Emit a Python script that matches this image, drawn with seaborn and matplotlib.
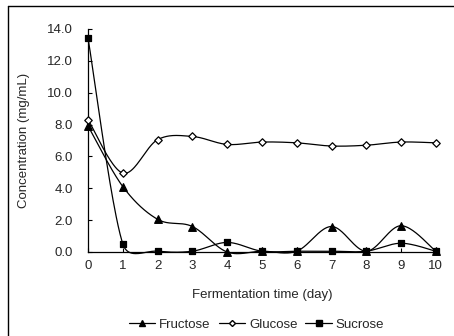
import numpy as np
import pandas as pd
import matplotlib
matplotlib.use("Agg")
import matplotlib.pyplot as plt
from matplotlib.lines import Line2D
import seaborn as sns

days = [0, 1, 2, 3, 4, 5, 6, 7, 8, 9, 10]
fructose = [7.9, 4.1, 2.05, 1.6, 0.0, 0.05, 0.05, 1.6, 0.05, 1.65, 0.05]
glucose = [8.3, 4.95, 7.05, 7.25, 6.75, 6.9, 6.85, 6.65, 6.7, 6.9, 6.85]
sucrose = [13.4, 0.5, 0.05, 0.05, 0.6, 0.05, 0.05, 0.05, 0.05, 0.55, 0.05]
series_names = ["Fructose", "Glucose", "Sucrose"]
y_ticks = [0, 2, 4, 6, 8, 10, 12, 14]
x_ticks = days

sns.set_theme(style="white")
plt.rcParams["font.family"] = ["Liberation Sans", "DejaVu Sans"]

fig = plt.figure(figsize=(4.54, 3.36), dpi=100)
ax = fig.add_axes([0.194, 0.25, 0.766, 0.664])
ax.set_xlim(0, 10)
ax.set_ylim(0, 14)

# pixel scales for smoothing distances
sx = 35.0
sy = 15.9


def smooth(xs, ys, n=40):
    P = np.column_stack([np.asarray(xs, float) * sx, np.asarray(ys, float) * sy])
    out = [P[0]]
    m = len(P)
    for i in range(m - 1):
        p0 = P[i - 1] if i > 0 else P[i]
        p1 = P[i]
        p2 = P[i + 1]
        p3 = P[i + 2] if i + 2 < m else P[i + 1]
        d02 = np.linalg.norm(p2 - p0)
        d13 = np.linalg.norm(p3 - p1)
        d12 = np.linalg.norm(p2 - p1)
        f = 1.0 / 6.0
        f1 = min(f, d12 / (2 * d02)) if d02 > 0 else f
        f2 = min(f, d12 / (2 * d13)) if d13 > 0 else f
        c1 = p1 + f1 * (p2 - p0)
        c2 = p2 - f2 * (p3 - p1)
        t = np.linspace(0, 1, n)[1:, None]
        b = ((1 - t) ** 3) * p1 + 3 * ((1 - t) ** 2) * t * c1 + 3 * (1 - t) * t ** 2 * c2 + t ** 3 * p2
        out.extend(b)
    out = np.array(out)
    return out[:, 0] / sx, out[:, 1] / sy


df = pd.DataFrame({"day": days * 3,
                   "value": fructose + glucose + sucrose,
                   "sugar": sum([[s] * len(days) for s in series_names], [])})

styles = {
    "Fructose": dict(marker="^", face="black", ms=5.5),
    "Glucose": dict(marker="D", face="white", ms=3.8),
    "Sucrose": dict(marker="s", face="black", ms=5.0),
}

for name in series_names:
    sub = df[df["sugar"] == name]
    xs, ys = smooth(sub["day"].values, sub["value"].values)
    ax.plot(xs, ys, color="black", lw=0.9, clip_on=False, zorder=2)
    st = styles[name]
    sns.scatterplot(data=sub, x="day", y="value", marker=st["marker"], s=st["ms"] ** 2,
                    color=st["face"], edgecolor="black", linewidth=0.9, ax=ax,
                    zorder=3, clip_on=False, legend=False)

for sp in ["top", "right"]:
    ax.spines[sp].set_visible(False)
for sp in ["left", "bottom"]:
    ax.spines[sp].set_color("black")
    ax.spines[sp].set_linewidth(0.9)

ax.set_yticks(y_ticks)
ax.set_yticklabels([f"{v:.1f}" for v in y_ticks])
ax.set_xticks(x_ticks)
ax.set_xticklabels([str(v) for v in x_ticks])
ax.tick_params(axis="y", direction="in", length=3, width=0.8, color="black", pad=11,
               labelsize=9.5, left=True)
ax.tick_params(axis="x", direction="in", length=3, width=0.8, color="black", pad=6,
               labelsize=9.5, bottom=True)
ax.set_xlabel("Fermentation time (day)", fontsize=9.5, labelpad=12)
ax.set_ylabel("Concentration (mg/mL)", fontsize=9.5, labelpad=12)

handles = [Line2D([0], [0], color="black", lw=0.9, marker=styles[n]["marker"],
                  markerfacecolor=styles[n]["face"], markeredgecolor="black",
                  markersize=styles[n]["ms"] * 0.8) for n in series_names]
fig.legend(handles, series_names, loc="center", bbox_to_anchor=(0.565, 0.033), ncol=3,
           frameon=False, fontsize=9.5, handlelength=2.0, handletextpad=0.3, columnspacing=0.6)

# outer frame (top and left edges)
fig.add_artist(Line2D([0.018, 1.0], [0.982, 0.982], transform=fig.transFigure, color="black", lw=1.0))
fig.add_artist(Line2D([0.018, 0.018], [0.0, 0.982], transform=fig.transFigure, color="black", lw=1.0))

fig.savefig("out.png", dpi=100)
